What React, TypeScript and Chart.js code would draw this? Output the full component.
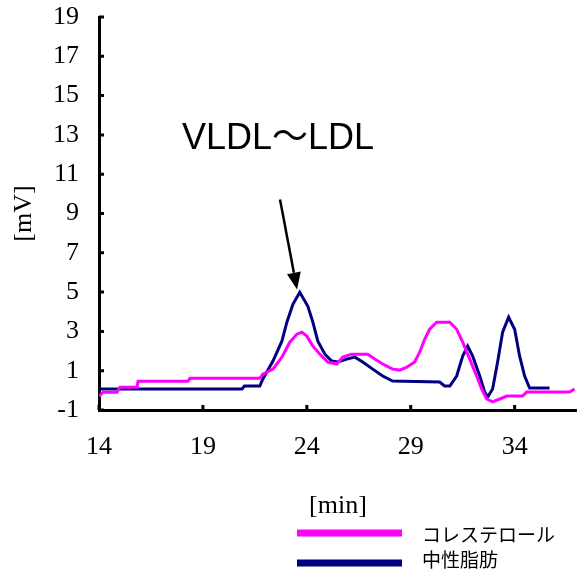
import React, { useEffect, useRef } from "react";
import { Chart, registerables } from "chart.js";

Chart.register(...registerables);

// ---- data ----
const cholLabel = "コレステロール";
const tgLabel = "中性脂肪";

const cholTime = [14.0, 14.19, 14.87, 15.01, 15.83, 15.88, 18.28, 18.38, 21.74, 21.88, 22.37, 22.8, 23.18, 23.52, 23.76, 24.0, 24.29, 24.63, 25.01, 25.44, 25.73, 26.16, 26.93, 27.27, 27.65, 28.13, 28.47, 28.81, 29.19, 29.43, 29.67, 29.91, 30.25, 30.88, 31.21, 31.5, 31.84, 32.17, 32.41, 32.65, 32.94, 33.28, 33.62, 34.38, 34.58, 36.64, 36.88];
const cholValues = [-0.3, -0.1, -0.1, 0.16, 0.16, 0.46, 0.46, 0.61, 0.61, 0.82, 1.08, 1.69, 2.45, 2.86, 2.96, 2.76, 2.25, 1.84, 1.44, 1.34, 1.69, 1.84, 1.84, 1.59, 1.34, 1.08, 1.03, 1.18, 1.44, 1.94, 2.6, 3.11, 3.47, 3.47, 3.11, 2.45, 1.59, 0.73, 0.07, -0.44, -0.59, -0.44, -0.29, -0.29, -0.09, -0.09, 0.07];

const tgTime = [14.0, 20.88, 21.0, 21.74, 21.88, 22.37, 22.8, 23.04, 23.33, 23.66, 24.05, 24.29, 24.53, 24.87, 25.2, 25.49, 25.92, 26.31, 26.69, 27.17, 27.65, 28.13, 30.39, 30.63, 30.88, 31.21, 31.5, 31.74, 31.98, 32.32, 32.56, 32.7, 32.94, 33.18, 33.42, 33.71, 34.0, 34.24, 34.48, 34.72, 35.68];
const tgValues = [0.07, 0.07, 0.22, 0.22, 0.57, 1.49, 2.5, 3.47, 4.38, 4.99, 4.28, 3.47, 2.5, 1.84, 1.49, 1.44, 1.59, 1.69, 1.44, 1.08, 0.73, 0.47, 0.42, 0.22, 0.22, 0.73, 1.74, 2.25, 1.74, 0.73, -0.09, -0.34, 0.07, 1.44, 2.96, 3.72, 3.11, 1.74, 0.73, 0.12, 0.12];

const xTicks = [14, 19, 24, 29, 34];
const yTicks = [-1, 1, 3, 5, 7, 9, 11, 13, 15, 17, 19];

const xTitle = "[min]";
const yTitle = "[mV]";
const annotationText = "VLDL～LDL";
// annotation anchor points in data units (x: min, y: mV)
const annoTextPos = [22.61, 12.77];
const annoArrowTail = [22.71, 9.71];
const annoArrowTip = [23.53, 5.13];

const cholColor = "#FF00FF";
const tgColor = "#000080";

const serif = '"Liberation Serif", "DejaVu Serif", serif';

const inwardTicks = {
  id: "inwardTicks",
  afterDraw(chart: any) {
    const { ctx, chartArea, scales } = chart;
    ctx.save();
    ctx.strokeStyle = "#000";
    ctx.lineWidth = 3;
    ctx.beginPath();
    for (const t of scales.x.ticks) {
      const px = scales.x.getPixelForValue(t.value);
      ctx.moveTo(px, chartArea.bottom);
      ctx.lineTo(px, chartArea.bottom - 5);
    }
    for (const t of scales.y.ticks) {
      const py = scales.y.getPixelForValue(t.value);
      ctx.moveTo(chartArea.left, py);
      ctx.lineTo(chartArea.left + 5, py);
    }
    ctx.stroke();
    ctx.restore();
  },
};

const annotation = {
  id: "annotation",
  afterDatasetsDraw(chart: any) {
    const { ctx, scales } = chart;
    const px = (p: number[]) => [scales.x.getPixelForValue(p[0]), scales.y.getPixelForValue(p[1])];
    const [tx, ty] = px(annoTextPos);
    const [ax, ay] = px(annoArrowTail);
    const [bx, by] = px(annoArrowTip);
    ctx.save();
    ctx.fillStyle = "#000";
    ctx.font = '36px "Liberation Sans", "Noto Sans CJK JP", sans-serif';
    ctx.textAlign = "center";
    ctx.textBaseline = "middle";
    ctx.fillText(annotationText, tx, ty);
    const dx = bx - ax, dy = by - ay;
    const len = Math.hypot(dx, dy);
    const ux = dx / len, uy = dy / len;
    const headLen = 17, headHalf = 7;
    const hx = bx - ux * headLen, hy = by - uy * headLen;
    ctx.strokeStyle = "#000";
    ctx.lineWidth = 2.5;
    ctx.beginPath();
    ctx.moveTo(ax, ay);
    ctx.lineTo(hx, hy);
    ctx.stroke();
    ctx.beginPath();
    ctx.moveTo(bx, by);
    ctx.lineTo(hx - uy * headHalf, hy + ux * headHalf);
    ctx.lineTo(hx + uy * headHalf, hy - ux * headHalf);
    ctx.closePath();
    ctx.fill();
    ctx.restore();
  },
};

const customLegend = {
  id: "customLegend",
  afterDraw(chart: any) {
    const { ctx } = chart;
    const items = chart.data.datasets;
    const rows = [533, 563];
    const textRows = [535, 560];
    ctx.save();
    items.forEach((ds: any, i: number) => {
      ctx.strokeStyle = ds.borderColor;
      ctx.lineWidth = 7;
      ctx.beginPath();
      ctx.moveTo(297, rows[i]);
      ctx.lineTo(402, rows[i]);
      ctx.stroke();
      ctx.fillStyle = "#000";
      ctx.font = '19px "Noto Sans CJK JP", sans-serif';
      ctx.textAlign = "left";
      ctx.textBaseline = "middle";
      ctx.fillText(ds.label, 422, textRows[i]);
    });
    ctx.restore();
  },
};

export default function App() {
  const ref = useRef<HTMLCanvasElement | null>(null);
  useEffect(() => {
    if (!ref.current) return;
    const chart = new Chart(ref.current, {
      type: "line",
      data: {
        datasets: [
          {
            label: cholLabel,
            data: cholTime.map((t, i) => ({ x: t, y: cholValues[i] })),
            borderColor: cholColor,
            backgroundColor: cholColor,
            borderWidth: 3,
            pointRadius: 0,
            tension: 0,
            fill: false,
          },
          {
            label: tgLabel,
            data: tgTime.map((t, i) => ({ x: t, y: tgValues[i] })),
            borderColor: tgColor,
            backgroundColor: tgColor,
            borderWidth: 3,
            pointRadius: 0,
            tension: 0,
            fill: false,
          },
        ],
      },
      options: {
        responsive: false,
        animation: false,
        devicePixelRatio: 1,
        layout: { padding: { top: 0, right: 0, left: 0, bottom: 0 } },
        plugins: { legend: { display: false }, tooltip: { enabled: false } },
        scales: {
          x: {
            type: "linear",
            min: 14,
            max: 37,
            afterBuildTicks: (s: any) => {
              s.ticks = xTicks.map((v) => ({ value: v }));
            },
            afterFit: (s: any) => {
              s.height = 160;
              s.paddingRight = 0;
            },
            grid: { display: false, drawTicks: false },
            border: { display: true, color: "#000", width: 3 },
            ticks: { color: "#000", font: { family: serif, size: 26 }, padding: 22, maxRotation: 0 },
            title: {
              display: true,
              text: xTitle,
              color: "#000",
              font: { family: serif, size: 26 },
              padding: { top: 0, bottom: 48 },
            },
          },
          y: {
            type: "linear",
            min: -1,
            max: 19,
            afterBuildTicks: (s: any) => {
              s.ticks = yTicks.map((v) => ({ value: v }));
            },
            afterFit: (s: any) => {
              s.width = 99;
              s.paddingTop = 17;
              s.paddingBottom = 0;
            },
            grid: { display: false, drawTicks: false },
            border: { display: true, color: "#000", width: 3 },
            ticks: { color: "#000", font: { family: serif, size: 26 }, padding: 20 },
            title: {
              display: true,
              text: yTitle,
              color: "#000",
              font: { family: serif, size: 26 },
              padding: { top: 9, bottom: 0 },
            },
          },
        },
      },
      plugins: [inwardTicks, annotation, customLegend],
    } as any);
    return () => chart.destroy();
  }, []);
  return (
    <div style={{ position: "absolute", left: 0, top: 0, width: 577, height: 570, background: "#fff" }}>
      <canvas ref={ref} width={577} height={570} style={{ display: "block" }} />
    </div>
  );
}
